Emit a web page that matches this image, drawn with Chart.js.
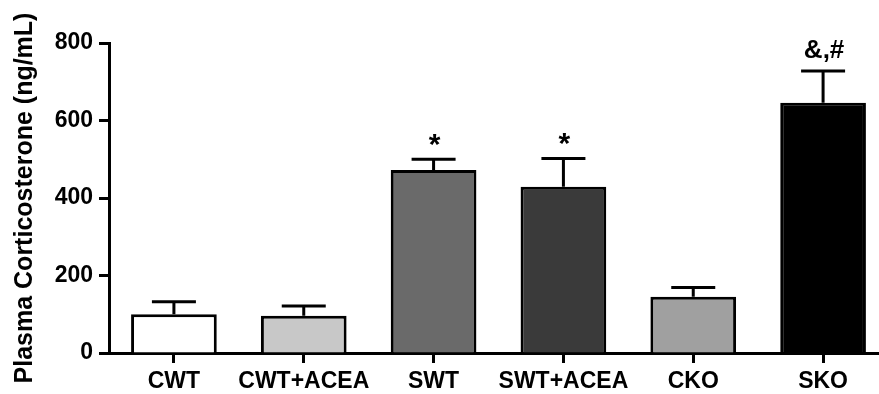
<!DOCTYPE html>
<html>
<head>
<meta charset="utf-8">
<script src="https://cdn.jsdelivr.net/npm/chart.js@4"></script>
<style>
html,body{margin:0;padding:0;background:#fff;overflow:hidden;width:879px;height:394px;}
canvas{display:block;}
</style>
</head>
<body>
<canvas id="c" width="900" height="394" style="width:900px;height:394px"></canvas>
<script>
const categories = ['CWT', 'CWT+ACEA', 'SWT', 'SWT+ACEA', 'CKO', 'SKO'];
const means = [100, 96, 472, 429, 145, 646];
const errorUpper = [132, 121, 500, 502, 169, 728];
const annotations = ['', '', '*', '*', '', '&,#'];
const barColors = ['#ffffff', '#c8c8c8', '#6a6a6a', '#3a3a3a', '#a0a0a0', '#000000'];
const yTicks = [0, 200, 400, 600, 800];

const FONT = '"Liberation Sans", Arial, Helvetica, sans-serif';

const errPlugin = {
  id: 'errbars',
  afterDatasetsDraw(chart) {
    const ctx = chart.ctx;
    const meta = chart.getDatasetMeta(0);
    const y = chart.scales.y;
    ctx.save();
    ctx.strokeStyle = '#000';
    ctx.lineWidth = 3;
    meta.data.forEach((bar, i) => {
      const x = bar.x;
      const yTop = y.getPixelForValue(means[i]);
      const yErr = y.getPixelForValue(errorUpper[i]);
      ctx.beginPath();
      ctx.moveTo(x, yTop);
      ctx.lineTo(x, yErr);
      ctx.moveTo(x - 22, yErr);
      ctx.lineTo(x + 22, yErr);
      ctx.stroke();
      const t = annotations[i];
      if (t) {
        const size = t === '*' ? 30 : 26;
        ctx.font = 'bold ' + size + 'px ' + FONT;
        ctx.fillStyle = '#000';
        ctx.textAlign = 'center';
        ctx.textBaseline = 'alphabetic';
        const m = ctx.measureText(t);
        const bottom = yErr - 13;
        const desc = t === '*' ? m.actualBoundingBoxDescent : 0;
        ctx.fillText(t, x + 1, bottom - desc);
      }
    });
    ctx.restore();
  }
};

new Chart(document.getElementById('c'), {
  type: 'bar',
  data: {
    labels: categories,
    datasets: [{
      data: means,
      backgroundColor: barColors,
      borderColor: '#000',
      borderWidth: 3,
      borderSkipped: 'bottom',
      categoryPercentage: 1,
      barPercentage: 0.66
    }]
  },
  options: {
    responsive: false,
    animation: false,
    devicePixelRatio: 1,
    layout: { padding: { left: 0, right: 12, top: 43, bottom: 0 } },
    plugins: { legend: { display: false }, tooltip: { enabled: false } },
    scales: {
      x: {
        grid: { display: true, drawOnChartArea: false, offset: false, tickLength: 10, tickWidth: 3, tickColor: '#000' },
        border: { display: true, color: '#000', width: 3 },
        ticks: { color: '#000', padding: 5, font: { family: FONT, size: 23, weight: 'bold' }, maxRotation: 0, autoSkip: false },
        afterFit(s) { s.height = 41; }
      },
      y: {
        min: 0, max: 800,
        afterBuildTicks(s) { s.ticks = yTicks.map(v => ({ value: v })); },
        grid: { display: true, drawOnChartArea: false, tickLength: 10, tickWidth: 3, tickColor: '#000' },
        border: { display: true, color: '#000', width: 3 },
        ticks: { color: '#000', padding: 6, font: { family: FONT, size: 23, weight: 'bold' } },
        title: { display: true, text: 'Plasma Corticosterone (ng/mL)', color: '#000', padding: { top: 10, bottom: 0 }, font: { family: FONT, size: 25, weight: 'bold' } },
        afterFit(s) { s.width = 109; }
      }
    }
  },
  plugins: [errPlugin]
});
</script>
</body>
</html>
